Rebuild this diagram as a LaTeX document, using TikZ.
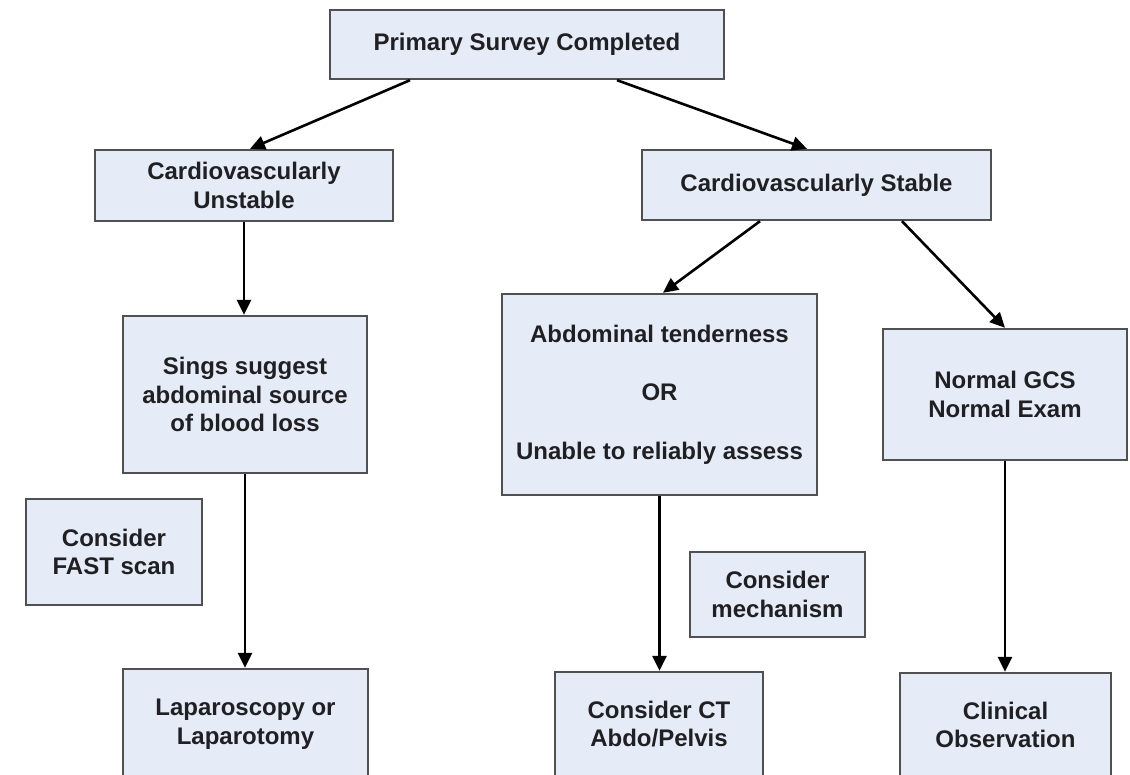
\documentclass[tikz,border=0pt]{standalone}
\usepackage{fontspec}
\setmainfont{Liberation Sans}
\usetikzlibrary{arrows.meta}
\definecolor{boxfill}{RGB}{230,236,247}
\definecolor{boxline}{RGB}{80,80,80}
\definecolor{txt}{RGB}{32,32,36}
\begin{document}
\begin{tikzpicture}[x=1pt,y=-1pt,
  box/.style={draw=boxline, line width=2.4pt, fill=boxfill, rectangle, inner sep=0pt,
    align=center, text=txt, font=\fontsize{24}{28.5}\selectfont\bfseries},
  arr/.style={line width=2.6pt, draw=black, -{Triangle[length=15pt,width=14pt]}}]
\useasboundingbox (0,0) rectangle (1130,775);
\clip (0,0) rectangle (1130,775);
\node[box, minimum width=394pt, minimum height=69pt] (P) at (527,44.5) {Primary Survey Completed};
\node[box, minimum width=298pt, minimum height=71pt] (CVU) at (244,185.5) {Cardiovascularly\\Unstable};
\node[box, minimum width=349pt, minimum height=70pt] (CVS) at (816.5,185) {Cardiovascularly Stable};
\node[box, minimum width=244pt, minimum height=157pt] (S) at (245,394.5) {Sings suggest\\abdominal source\\of blood loss};
\node[box, minimum width=315pt, minimum height=201pt] (A) at (659.5,394.5) {Abdominal tenderness\\[30pt]OR\\[30pt]Unable to reliably assess};
\node[box, minimum width=244pt, minimum height=131pt] (N) at (1005,394.5) {Normal GCS\\Normal Exam};
\node[box, minimum width=176pt, minimum height=106pt] (F) at (114,552) {Consider\\FAST scan};
\node[box, minimum width=175pt, minimum height=85pt] (M) at (777.5,594.5) {Consider\\mechanism};
\node[box, minimum width=245pt, minimum height=110pt] (L) at (245.5,724) {Laparoscopy or\\Laparotomy};
\node[box, minimum width=208pt, minimum height=104pt] (CT) at (659,724) {Consider CT\\Abdo/Pelvis};
\node[box, minimum width=211pt, minimum height=104pt] (C) at (1005.5,725) {Clinical\\Observation};
\draw[arr] ([xshift=-117pt]P.south) -- ([xshift=6pt]CVU.north);
\draw[arr] ([xshift=90pt]P.south) -- ([xshift=-9.5pt]CVS.north);
\draw[arr] ([xshift=-56.5pt]CVS.south) -- ([xshift=3.5pt]A.north);
\draw[arr] ([xshift=85.5pt]CVS.south) -- (N.north);
\draw[arr] (CVU.south) -- (CVU.south |- S.north);
\draw[arr] (S.south) -- (S.south |- L.north);
\draw[arr] (A.south) -- (A.south |- CT.north);
\draw[arr] (N.south) -- (N.south |- C.north);
\end{tikzpicture}
\end{document}
